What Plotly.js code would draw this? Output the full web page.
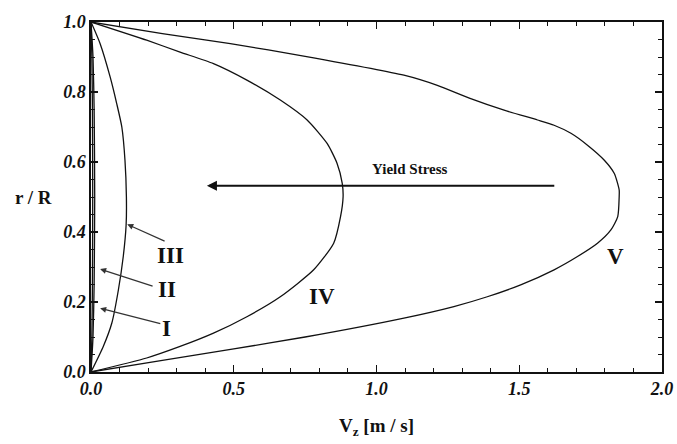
<!DOCTYPE html>
<html>
<head>
<meta charset="utf-8">
<script src="https://cdn.plot.ly/plotly-3.0.1.min.js"></script>
<style>html,body{margin:0;padding:0;background:#fff;}#chart{width:677px;height:444px;}</style>
</head>
<body>
<div id="chart"></div>
<script>
// Curve V
const rV = [1.0, 0.967, 0.938, 0.902, 0.848, 0.819, 0.781, 0.748, 0.720, 0.705, 0.682, 0.648, 0.605, 0.567, 0.520, 0.501, 0.444, 0.406, 0.368, 0.330, 0.292, 0.249, 0.215, 0.187, 0.154, 0.100, 0.066, 0.033, 0.0];
const vV = [0, 0.250, 0.488, 0.750, 1.096, 1.213, 1.330, 1.447, 1.564, 1.622, 1.681, 1.739, 1.798, 1.833, 1.850, 1.850, 1.845, 1.821, 1.774, 1.704, 1.622, 1.505, 1.388, 1.271, 1.096, 0.750, 0.500, 0.250, 0];
// Curve IV
const rIV = [1.0, 0.948, 0.914, 0.881, 0.834, 0.777, 0.720, 0.653, 0.596, 0.539, 0.501, 0.444, 0.368, 0.292, 0.215, 0.158, 0.111, 0.073, 0.040, 0.0];
const vIV = [0, 0.195, 0.312, 0.429, 0.546, 0.663, 0.757, 0.827, 0.862, 0.880, 0.883, 0.874, 0.850, 0.780, 0.663, 0.546, 0.429, 0.312, 0.195, 0];
// Curve III
const rIII = [1.0, 0.938, 0.843, 0.767, 0.700, 0.605, 0.500, 0.420, 0.330, 0.235, 0.140, 0.073, 0.0];
const vIII = [0, 0.032, 0.067, 0.090, 0.108, 0.119, 0.124, 0.123, 0.113, 0.096, 0.073, 0.043, 0];
// Curve II
const rII = [1.0, 0.9, 0.75, 0.5, 0.25, 0.1, 0.0];
const vII = [0, 0.007, 0.011, 0.013, 0.011, 0.007, 0];
// Curve I
const rI = [1.0, 0.9, 0.75, 0.5, 0.25, 0.1, 0.0];
const vI = [0, 0.003, 0.005, 0.006, 0.005, 0.003, 0];

// Curve labels: [text, V, r]
const curveLabels = ["I", "II", "III", "IV", "V"];
const labelV = [0.266, 0.266, 0.28, 0.81, 1.836];
const labelR = [0.125, 0.237, 0.334, 0.217, 0.33];
// Label pointer arrows (tail -> tip) for I, II, III
const ptrTailV = [0.248, 0.221, 0.263];
const ptrTailR = [0.137, 0.244, 0.372];
const ptrTipV = [0.032, 0.032, 0.127];
const ptrTipR = [0.182, 0.294, 0.422];
// Yield stress arrow
const yieldText = "Yield Stress";
const yieldTextV = 1.117, yieldTextR = 0.58;
const yieldTailV = 1.628, yieldTipV = 0.406, yieldR = 0.532;

const serif = "Liberation Serif, Times New Roman, serif";
const lineStyle = {color: "#111", width: 1.3, shape: "spline", smoothing: 0.6};
const mk = (x, y) => ({x: x, y: y, mode: "lines", line: lineStyle, hoverinfo: "skip", showlegend: false});
const traces = [mk(vV, rV), mk(vIV, rIV), mk(vIII, rIII), mk(vII, rII), mk(vI, rI)];

const annotations = [];
for (let i = 0; i < curveLabels.length; i++) {
  annotations.push({x: labelV[i], y: labelR[i], xref: "x", yref: "y", text: curveLabels[i], showarrow: false,
    font: {family: serif, size: 23, color: "#111", weight: "bold"}});
}
for (let i = 0; i < ptrTailV.length; i++) {
  annotations.push({x: ptrTipV[i], y: ptrTipR[i], ax: ptrTailV[i], ay: ptrTailR[i], xref: "x", yref: "y", axref: "x", ayref: "y",
    text: "", showarrow: true, arrowhead: 2, arrowsize: 1, arrowwidth: 1.2, arrowcolor: "#333"});
}
annotations.push({x: yieldTipV, y: yieldR, ax: yieldTailV, ay: yieldR, xref: "x", yref: "y", axref: "x", ayref: "y",
  text: "", showarrow: true, arrowhead: 2, arrowsize: 1, arrowwidth: 2, arrowcolor: "#111"});
annotations.push({x: yieldTextV, y: yieldTextR, xref: "x", yref: "y", text: yieldText, showarrow: false,
  font: {family: serif, size: 15, color: "#111", weight: "bold"}});
annotations.push({x: -0.02, y: 0.5, xref: "paper", yref: "paper", xanchor: "right", yanchor: "middle", text: "r / R", showarrow: false,
  xshift: -26, font: {family: serif, size: 19, color: "#111", weight: "bold"}});

const axisCommon = {
  showgrid: false, zeroline: false, showline: true, linecolor: "#111", linewidth: 1.6, mirror: "ticks",
  ticks: "inside", ticklen: 7, tickwidth: 1.2, tickcolor: "#111",
  tickformat: ".1f",
  tickfont: {family: serif, size: 18, color: "#111", weight: "bold", style: "italic"},
  minor: {ticks: "inside", ticklen: 4, tickwidth: 1, tickcolor: "#111"}
};

const layout = {
  width: 677, height: 444,
  margin: {l: 91, r: 15, t: 22, b: 72},
  paper_bgcolor: "#fff", plot_bgcolor: "#fff",
  xaxis: Object.assign({}, axisCommon, {range: [0, 2.0], dtick: 0.5, tick0: 0,
    minor: Object.assign({}, axisCommon.minor, {dtick: 0.1}),
    title: {text: "V<sub>z</sub> [m / s]", font: {family: serif, size: 19, color: "#111", weight: "bold"}, standoff: 20}}),
  yaxis: Object.assign({}, axisCommon, {range: [0, 1.0], dtick: 0.2, tick0: 0,
    minor: Object.assign({}, axisCommon.minor, {dtick: 0.05})}),
  annotations: annotations,
  showlegend: false
};

Plotly.newPlot("chart", traces, layout, {displayModeBar: false, staticPlot: true});
</script>
</body>
</html>
